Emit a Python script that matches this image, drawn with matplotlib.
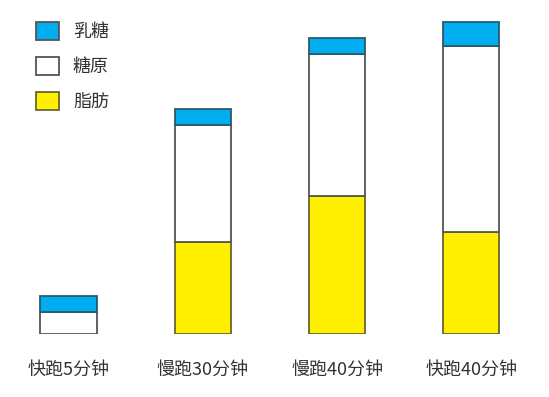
import matplotlib
matplotlib.use("Agg")
import matplotlib.pyplot as plt
from matplotlib.patches import Patch

plt.rcParams['font.family'] = ['Noto Sans CJK SC', 'DejaVu Sans']

categories = ['快跑5分钟', '慢跑30分钟', '慢跑40分钟', '快跑40分钟']
fat = [0, 92, 138, 102]
glycogen = [22, 117, 142, 186]
lactate = [16, 16, 16, 24]
series_names = ['乳糖', '糖原', '脂肪']

c_lac = '#00AEEF'
c_gly = '#FFFFFF'
c_fat = '#FFF000'
edge_fat = '#6b6330'
edge_other = '#555555'

W, H = 549, 397
fig = plt.figure(figsize=(W / 100, H / 100), dpi=100)
left_px = 1.4
ax = fig.add_axes([left_px / W, 63 / H, 537 / W, 334 / H])
x = list(range(len(categories)))
width = 0.42

ax.bar(x, fat, width, color=c_fat, edgecolor=edge_fat, linewidth=1.3)
ax.bar(x, glycogen, width, bottom=fat, color=c_gly, edgecolor=edge_other, linewidth=1.3)
bot2 = [a + b for a, b in zip(fat, glycogen)]
ax.bar(x, lactate, width, bottom=bot2, color=c_lac, edgecolor='#2a5a6e', linewidth=1.3)

ax.set_xlim(-0.5, 3.5)
ax.set_ylim(0, 334)
ax.set_xticks(x)
ax.set_xticklabels(categories, fontsize=13, color='#333333')
ax.tick_params(axis='x', length=0, pad=19)
ax.set_yticks([])
for s in ax.spines.values():
    s.set_visible(False)

handles = [Patch(facecolor=c_lac, edgecolor=edge_other, linewidth=1.3),
           Patch(facecolor=c_gly, edgecolor=edge_other, linewidth=1.3),
           Patch(facecolor=c_fat, edgecolor=edge_fat, linewidth=1.3)]
fig.legend(handles, series_names, loc='upper left',
           bbox_to_anchor=(36 / W, 1 - 22 / H), frameon=False,
           fontsize=13, handlelength=1.3, handleheight=1.15,
           labelspacing=0.88, handletextpad=0.75, borderpad=0,
           borderaxespad=0, labelcolor='#333333')

fig.savefig('out.png', dpi=100)
